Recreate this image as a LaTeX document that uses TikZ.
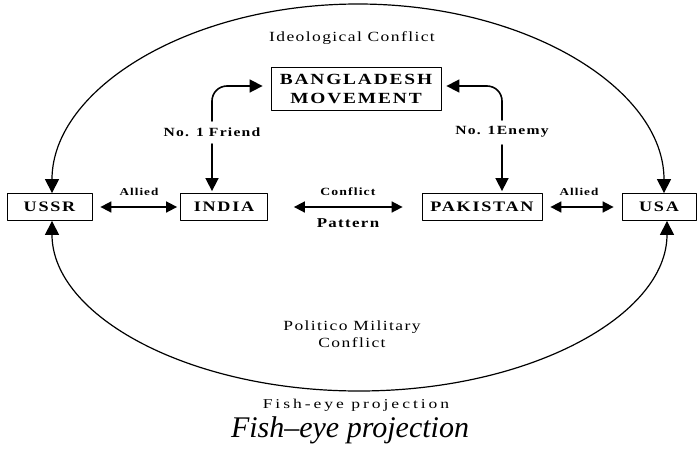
\documentclass[tikz,border=0pt]{standalone}
\usepackage{fontspec}
\setmainfont{Liberation Serif}
\newfontfamily\scanfont[FakeStretch=1.25,LetterSpace=10]{Liberation Serif}
\newfontfamily\boxfont[FakeStretch=1.25,LetterSpace=12]{Liberation Serif}
\newfontfamily\widefont[FakeStretch=1.3,LetterSpace=22]{Liberation Serif}
\usetikzlibrary{arrows.meta}

\begin{document}
\begin{tikzpicture}[x=1pt, y=-1pt, line cap=round, line join=round,
    >={Triangle[length=11pt,width=11pt]},
    country/.style={draw, line width=0.8pt, inner sep=0pt, minimum height=27pt,
      font=\fontsize{14.5}{16}\selectfont\boxfont\bfseries},
    lbl/.style={font=\fontsize{12.5}{15}\selectfont\scanfont\bfseries},
    small/.style={font=\fontsize{10.5}{12}\selectfont\scanfont\bfseries},
    big/.style={font=\fontsize{14}{17}\selectfont\scanfont},
    link/.style={->, line width=1.6pt, >={Triangle[length=13pt,width=13pt]}},
    both/.style={<->, line width=1.7pt},
    orbit/.style={<->, line width=1.2pt, >={Triangle[length=14pt,width=14pt]}}]
  \useasboundingbox (0,0) rectangle (697,453);

  % ---- Countries (pixel grid, y downwards) ----
  \node[country, minimum width=85pt]  (ussr)  at (49.5,207) {USSR};
  \node[country, minimum width=87pt]  (india) at (224,207)  {INDIA};
  \node[country, minimum width=120pt] (pak)   at (482,207)  {PAKISTAN};
  \node[country, minimum width=74pt]  (usa)   at (659,207)  {USA};
  \node[country, minimum width=170pt, minimum height=43pt, align=center,
        font=\fontsize{15.5}{19}\selectfont\boxfont\bfseries]
        (bang) at (356,89) {BANGLADESH\\MOVEMENT};

  % ---- Labels ----
  \node[big]  (ideo)   at (352,38)  {Ideological Conflict};
  \node[lbl]  (friend) at (212,132) {No. 1 Friend};
  \node[lbl]  (enemy)  at (502,132) {No. 1Enemy};
  \node[small] (allyL) at (139,192) {Allied};
  \node[small] (allyR) at (579,192) {Allied};
  \node[small, font=\fontsize{11}{12}\selectfont\scanfont\bfseries] (confl) at (348,192) {Conflict};
  \node[lbl, font=\fontsize{13.5}{15}\selectfont\scanfont\bfseries] (patt) at (348,223) {Pattern};
  \node[big, align=center] (polmil) at (352,334) {Politico Military\\Conflict};

  % ---- Bangladesh links ----
  \draw[link, rounded corners=15pt, shorten <=3pt, shorten >=8pt]
    (friend.north) |- ([yshift=3pt]bang.west);
  \draw[link, rounded corners=15pt, shorten <=3pt, shorten >=5pt]
    (enemy.north) |- ([yshift=3pt]bang.east);
  \draw[link, shorten <=4pt, shorten >=2pt] (friend.south) -- (friend.south |- india.north);
  \draw[link, shorten <=4pt, shorten >=2pt] (enemy.south) -- (enemy.south |- pak.north);

  % ---- Row links ----
  \draw[both, shorten <=8pt, shorten >=3pt]   (ussr) -- (india);
  \draw[both, shorten <=26pt, shorten >=19pt] (india) -- (pak);
  \draw[both, shorten <=8pt, shorten >=8pt]   (pak) -- (usa);

  % ---- Fish-eye ring (two half ellipses) ----
  \coordinate (apexTop) at (358,4);
  \coordinate (apexBot) at (359,391);
  \draw[orbit] ([xshift=2.5pt]ussr.north) .. controls +(0,-104) and +(-169,0) .. (apexTop)
               .. controls +(169,0) and +(0,-104) .. ([xshift=5pt]usa.north);
  \draw[orbit] ([xshift=2.5pt]ussr.south) .. controls +(0,95) and +(-170,0) .. (apexBot)
               .. controls +(170,0) and +(0,95) .. ([xshift=8pt]usa.south);

  % ---- Captions ----
  \node[font=\fontsize{13.5}{15}\selectfont\widefont] (capsmall) at (356,405.5) {Fish-eye projection};
  \node[font=\fontsize{30}{32}\selectfont\itshape] (capbig) at (350,430.5) {Fish--eye projection};
\end{tikzpicture}
\end{document}
